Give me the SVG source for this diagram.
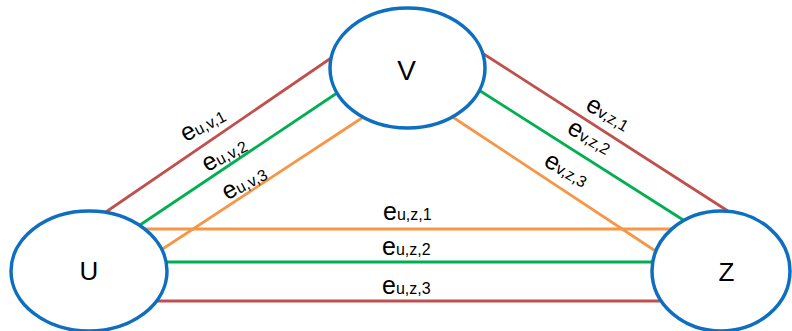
<svg xmlns="http://www.w3.org/2000/svg" width="792" height="331" viewBox="0 0 792 331">
  <style>
    .edge { stroke-width: 2.8; fill: none; }
    .r { stroke: #C0504D; }
    .g { stroke: #00B050; }
    .o { stroke: #F79646; }
    .node { fill: #FFFFFF; stroke: #0E6FC1; stroke-width: 3.5; }
    .nlabel { font-family: "Liberation Sans", Arial, sans-serif; fill: #000000; text-anchor: middle; }
    .elabel { font-family: "Liberation Sans", Arial, sans-serif; fill: #000000; }
    .main { font-size: 25px; }
    .sub { font-size: 16px; }
  </style>
  <rect width="792" height="331" fill="#FFFFFF"/>

  <!-- connectors: three parallel edges between each pair of nodes -->
  <g id="edges">
    <line class="edge r" x1="100" y1="216" x2="334" y2="56"/>
    <line class="edge g" x1="134" y1="229" x2="340" y2="91"/>
    <line class="edge o" x1="158" y1="252" x2="368" y2="114"/>

    <line class="edge r" x1="479" y1="51" x2="731" y2="213"/>
    <line class="edge g" x1="474" y1="87" x2="688" y2="223"/>
    <line class="edge o" x1="448" y1="114" x2="660" y2="254"/>

    <line class="edge o" x1="140" y1="229" x2="680" y2="229"/>
    <line class="edge g" x1="160" y1="262" x2="660" y2="262"/>
    <line class="edge r" x1="150" y1="301" x2="666" y2="301"/>

    <!-- edge labels -->
    <text class="elabel" transform="translate(185.5,142.3) rotate(-28)"><tspan class="main">e</tspan><tspan class="sub">u,v,1</tspan></text>
    <text class="elabel" transform="translate(207,172.3) rotate(-28)"><tspan class="main">e</tspan><tspan class="sub">u,v,2</tspan></text>
    <text class="elabel" transform="translate(227,200.6) rotate(-28)"><tspan class="main">e</tspan><tspan class="sub">u,v,3</tspan></text>

    <text class="elabel" transform="translate(584.2,108.9) rotate(30)"><tspan class="main">e</tspan><tspan class="sub">v,z,1</tspan></text>
    <text class="elabel" transform="translate(565.8,132.2) rotate(30)"><tspan class="main">e</tspan><tspan class="sub">v,z,2</tspan></text>
    <text class="elabel" transform="translate(542.5,164.9) rotate(30)"><tspan class="main">e</tspan><tspan class="sub">v,z,3</tspan></text>

    <text class="elabel" x="383" y="220"><tspan class="main">e</tspan><tspan class="sub">u,z,1</tspan></text>
    <text class="elabel" x="382" y="255"><tspan class="main">e</tspan><tspan class="sub">u,z,2</tspan></text>
    <text class="elabel" x="382" y="294"><tspan class="main">e</tspan><tspan class="sub">u,z,3</tspan></text>
  </g>

  <!-- nodes -->
  <g id="node-U">
    <ellipse class="node" cx="89" cy="271" rx="78" ry="60"/>
    <text class="nlabel" x="89" y="280" font-size="26">U</text>
  </g>
  <g id="node-V">
    <ellipse class="node" cx="407.5" cy="68" rx="77.5" ry="60"/>
    <text class="nlabel" x="406.5" y="80" font-size="28">V</text>
  </g>
  <g id="node-Z">
    <ellipse class="node" cx="721" cy="271" rx="69" ry="60"/>
    <text class="nlabel" x="726.5" y="280.5" font-size="26">Z</text>
  </g>
</svg>
